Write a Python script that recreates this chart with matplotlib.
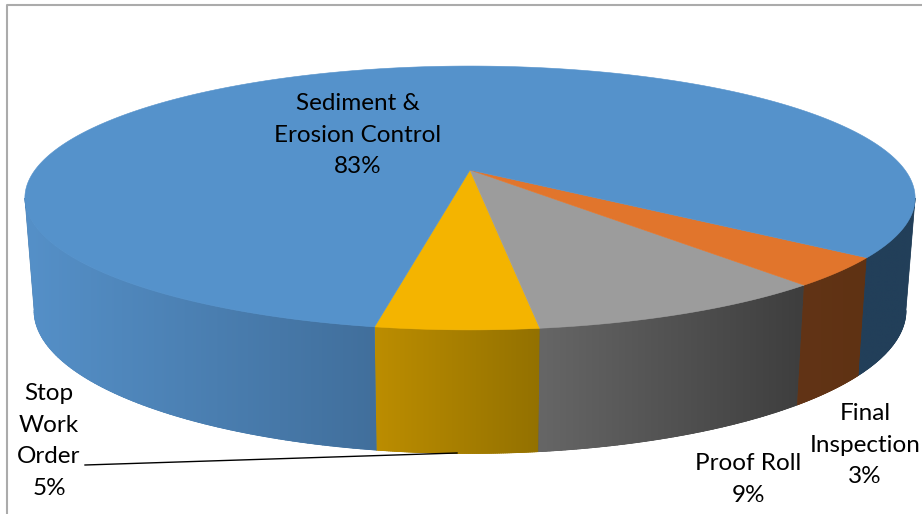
"""3D pie chart of inspection findings, drawn with a perspective projection."""
import numpy as np
import matplotlib
matplotlib.use("Agg")
import matplotlib.pyplot as plt
from matplotlib.colors import to_rgb
from matplotlib.patches import Polygon

# data
labels = ["Stop\nWork\nOrder", "Proof Roll", "Final\nInspection", "Sediment &\nErosion Control"]
values = [4.8, 9.1, 3.5, 82.6]
percents = ["5%", "9%", "3%", "83%"]
top_colors = ["#F4B400", "#9C9C9C", "#E1752C", "#5592CB"]
side_left = ["#BC8D00", "#666666", "#623416", "#5590C8"]
side_right = ["#937100", "#3E3E3E", "#5F3213", "#416F9C"]
BLUE_BACK = "#223F59"

# projection, in pixels of the 922x514 picture
CX = 470
TOP_CY, TOP_A, TOP_B = 170, 435, 126
BOT_CY, BOT_A, BOT_B = 280, 426, 136.6
K = 0.212
START = -10.0  # degrees from the front, positive to the right


def project(deg, cy, a, b):
    t = np.radians(deg)
    den = 1 - K * np.cos(t)
    return CX + a * np.sin(t) / den, cy + b * np.cos(t) / den


def top(deg):
    return project(deg, TOP_CY, TOP_A, TOP_B)


def bottom(deg):
    return project(deg, BOT_CY, BOT_A, BOT_B)


def side_band(ax, d0, d1, c0, c1):
    """Side wall between two angles, with a left to right colour gradient."""
    c0, c1 = np.array(to_rgb(c0)), np.array(to_rgb(c1))
    ts = np.linspace(d0, d1, 80)
    xt, yt = top(ts)
    xb, yb = bottom(ts)
    pts = list(zip(xt, yt)) + list(zip(xb[::-1], yb[::-1]))
    x0, x1 = min(xt.min(), xb.min()), max(xt.max(), xb.max())
    grad = np.linspace(c0, c1, 64)[np.newaxis, :, :]
    # plain polygon below the image keeps the edges antialiased
    patch = Polygon(pts, closed=True, fc=(c0 + c1) / 2, ec=(c0 + c1) / 2, lw=0.5,
                    zorder=0.5, transform=ax.transData)
    ax.add_patch(patch)
    im = ax.imshow(grad, extent=(x0, x1, yb.max() + 2, yt.min() - 2),
                   aspect="auto", interpolation="bilinear", zorder=1)
    im.set_clip_path(patch)
    # smooth the clipped lower rim
    for i in range(len(ts) - 1):
        f = ((xb[i] + xb[i + 1]) / 2 - x0) / (x1 - x0)
        ax.plot(xb[i:i + 2], yb[i:i + 2], color=c0 + (c1 - c0) * f, lw=0.7, zorder=1.5,
                solid_capstyle="round")


fig = plt.figure(figsize=(9.22, 5.14), dpi=100)
ax = fig.add_axes([0, 0, 1, 1])

# chart frame
ax.plot([6.5, 6.5, 922], [514, 5, 5], color="#ABABAB", lw=1.5)

spans = np.array(values) / sum(values) * 360
starts = START + np.concatenate([[0], np.cumsum(spans)[:-1]])
limit = np.degrees(np.arccos(K))

# sides of the front slices
for i in range(3):
    side_band(ax, starts[i], starts[i] + spans[i], side_left[i], side_right[i])
side_band(ax, -limit, START, side_left[3], side_right[3])
side_band(ax, starts[2] + spans[2], limit, BLUE_BACK, BLUE_BACK)

# top faces
for i in range(4):
    ts = np.linspace(starts[i], starts[i] + spans[i], int(spans[i] * 8) + 2)
    xs, ys = top(ts)
    pts = [(CX, TOP_CY)] + list(zip(xs, ys))
    ax.add_patch(Polygon(pts, closed=True, fc=top_colors[i], ec=top_colors[i],
                         lw=0.4, zorder=2))

# leader line and data labels
ax.plot([85, 457], [465, 453], color="black", lw=1.0, zorder=3)

font = dict(family="Lato", fontsize=17.5, color="black", ha="center", va="center",
            linespacing=1.64, zorder=4)
label_xy = [(49, 441), (748, 479.5), (865, 445), (358, 135)]
for name, pct, (lx, ly) in zip(labels, percents, label_xy):
    ax.text(lx, ly, f"{name}\n{pct}", **font)

ax.set_xlim(0, 922)
ax.set_ylim(514, 0)
ax.axis("off")

fig.savefig("out.png", dpi=100)
